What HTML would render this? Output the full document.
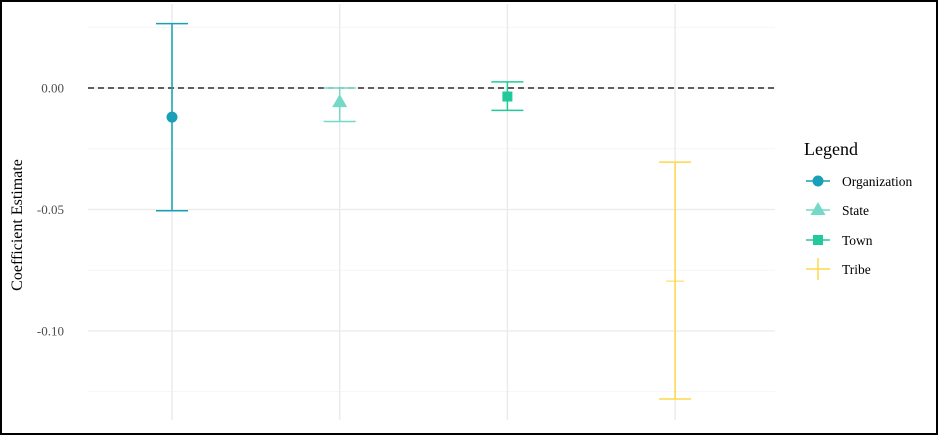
<!DOCTYPE html>
<html><head><meta charset="utf-8"><style>
html,body{margin:0;padding:0;background:#fff}
svg{display:block;font-family:"Liberation Serif",serif}
</style></head><body>
<svg id="chart" width="940" height="436">
<rect x="1" y="1" width="936" height="433" fill="#fff" stroke="#000" stroke-width="2"/>
<g id="grid"></g>
<g id="marks"></g>
<text x="22" y="225" transform="rotate(-90 22 225)" text-anchor="middle" font-size="16" fill="#000">Coefficient Estimate</text>
<g>
<text x="804" y="155" font-size="18">Legend</text>
<g><line x1="806" x2="830" y1="181" y2="181" stroke="#1a9fb8" stroke-width="1.5"/><circle cx="818" cy="181" r="5.5" fill="#1a9fb8"/><text x="842" y="186" font-size="13.5">Organization</text></g>
<g><line x1="806" x2="830" y1="210" y2="210" stroke="#76d8c6" stroke-width="1.5"/><polygon points="818,202 825.5,215 810.5,215" fill="#76d8c6"/><text x="842" y="215" font-size="13.5">State</text></g>
<g><line x1="806" x2="830" y1="240" y2="240" stroke="#22c99a" stroke-width="1.5"/><rect x="813" y="235" width="10" height="10" fill="#22c99a"/><text x="842" y="245" font-size="13.5">Town</text></g>
<g><line x1="806" x2="830" y1="269" y2="269" stroke="#ffd84a" stroke-width="1.5"/><line x1="818" x2="818" y1="258" y2="280" stroke="#ffd84a" stroke-width="1.5"/><text x="842" y="274" font-size="13.5">Tribe</text></g>
</g>
</svg>
<script>
const categories=["Organization","State","Town","Tribe"];
const estimates=[-0.012,-0.0058,-0.0035,-0.0795];
const ciLow=[-0.0505,-0.0138,-0.0092,-0.128];
const ciHigh=[0.0265,0.0,0.0025,-0.0305];
const colors=["#1a9fb8","#76d8c6","#22c99a","#ffd84a"];
const yTicks=[0,-0.05,-0.10];
const yTickLabels=["0.00","-0.05","-0.10"];
const yMinor=[0.025,-0.025,-0.075,-0.125];
const NS="http://www.w3.org/2000/svg";
const L=88,R=775,T=4,B=420;
function y(v){return 88-(v*2430);}
function x(i){return 172+i*167.7;}
function mk(t,a,p){const e=document.createElementNS(NS,t);for(const k in a)e.setAttribute(k,a[k]);p.appendChild(e);return e;}
const g=document.getElementById('grid'),m=document.getElementById('marks');
yMinor.forEach(v=>{const e=mk('line',{x1:L,x2:R,y1:y(v),y2:y(v),stroke:'#f2f2f2','stroke-width':0.8},g);

});
yTicks.forEach((v,i)=>{const e=mk('line',{x1:L,x2:R,y1:y(v),y2:y(v),stroke:'#ebebeb','stroke-width':1.2},g);


const t=mk('text',{x:64,y:y(v)+4.5,'text-anchor':'end','font-size':13,fill:'#4d4d4d'},g);t.textContent=yTickLabels[i];

});
categories.forEach((c,i)=>{const e=mk('line',{x1:x(i),x2:x(i),y1:T,y2:B,stroke:'#ebebeb','stroke-width':1.5},g);

});
const z=mk('line',{x1:L,x2:R,y1:y(0),y2:y(0),stroke:'#000','stroke-width':1.3,'stroke-dasharray':'6,4'},m);


categories.forEach((c,i)=>{const gg=mk('g',{},m);


const col=colors[i],cx=x(i),w=16;
mk('line',{x1:cx,x2:cx,y1:y(ciHigh[i]),y2:y(ciLow[i]),stroke:col,'stroke-width':1.5},gg);
mk('line',{x1:cx-w,x2:cx+w,y1:y(ciHigh[i]),y2:y(ciHigh[i]),stroke:col,'stroke-width':1.5},gg);
mk('line',{x1:cx-w,x2:cx+w,y1:y(ciLow[i]),y2:y(ciLow[i]),stroke:col,'stroke-width':1.5},gg);
const ey=y(estimates[i]);
let p;
if(i===0)p=mk('circle',{cx:cx,cy:ey,r:5.5,fill:col},gg);
else if(i===1)p=mk('polygon',{points:`${cx},${ey-8} ${cx+7.5},${ey+5} ${cx-7.5},${ey+5}`,fill:col},gg);
else if(i===2)p=mk('rect',{x:cx-5,y:ey-5,width:10,height:10,fill:col},gg);
else p=mk('line',{x1:cx-9,x2:cx+9,y1:ey,y2:ey,stroke:col,'stroke-width':1},gg);

});
</script>
</body></html>
